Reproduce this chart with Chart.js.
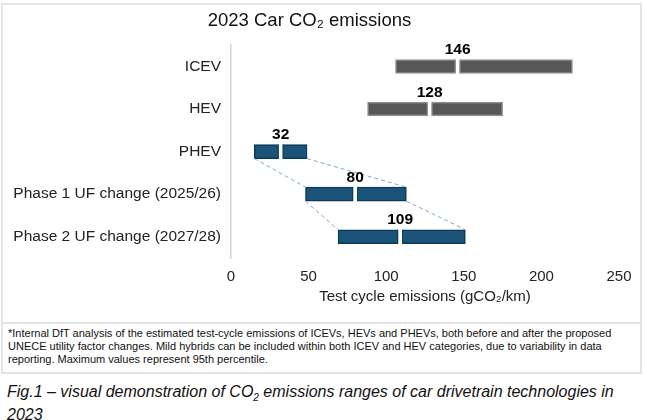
<!DOCTYPE html>
<html>
<head>
<meta charset="utf-8">
<script src="https://cdn.jsdelivr.net/npm/chart.js@4"></script>
<style>
  body { margin: 0; background: #fff; width: 645px; height: 420px; position: relative; overflow: hidden; font-family: "Liberation Sans", Arial, sans-serif; }
  #wrap { position: absolute; left: 0; top: 0; width: 645px; height: 322px; }
  #frame { position: absolute; left: 1px; top: 3px; width: 637px; height: 367px; border: 2px solid #e4e4e4; }
  #divider { position: absolute; left: 1px; top: 322px; width: 641px; height: 2px; background: #e4e4e4; }
  #note { position: absolute; left: 8px; top: 327px; font-size: 11px; line-height: 13px; color: #111; white-space: nowrap; }
  #caption { position: absolute; left: 7px; top: 383px; font-size: 16px; line-height: 17px; font-style: italic; color: #111; white-space: nowrap; }
  #caption sub { font-size: 10px; }
</style>
</head>
<body>
<div id="frame"></div>
<div id="divider"></div>
<div id="wrap"><canvas id="emissions"></canvas></div>
<div id="note">*Internal DfT analysis of the estimated test-cycle emissions of ICEVs, HEVs and PHEVs, both before and after the proposed<br>UNECE utility factor changes. Mild hybrids can be included within both ICEV and HEV categories, due to variability in data<br>reporting. Maximum values represent 95th percentile.</div>
<div id="caption">Fig.1 – visual demonstration of CO<sub>2</sub> emissions ranges of car drivetrain technologies in<br>2023</div>
<script>
// chart data
const categories = ['ICEV', 'HEV', 'PHEV', 'Phase 1 UF change (2025/26)', 'Phase 2 UF change (2027/28)'];
const minValues = [106, 88, 15, 48, 69];
const medianValues = [146, 128, 32, 80, 109];
const maxValues = [220, 175, 49, 113, 151];
const xTicks = [0, 50, 100, 150, 200, 250];
// which bars get joined by the dashed lines
const links = [[2, 3], [3, 4]];

const fills = ['#575757', '#575757', '#1b5478', '#1b5478', '#1b5478'];
const borders = ['#8e8e8e', '#8e8e8e', '#0c3957', '#0c3957', '#0c3957'];

// white split at the median + value above the bar + dashed links
const rangePlugin = {
    id: 'rangePlugin',
    afterDatasetsDraw(chart) {
        const ctx = chart.ctx;
        const x = chart.scales.x;
        const low = chart.getDatasetMeta(0).data;
        ctx.save();
        // dashed links
        ctx.strokeStyle = '#74aadb';
        ctx.lineWidth = 1;
        ctx.setLineDash([4, 3]);
        links.forEach(([a, b]) => {
            const top = low[a], bot = low[b];
            const yA = top.y + top.height / 2, yB = bot.y - bot.height / 2;
            ctx.beginPath();
            ctx.moveTo(x.getPixelForValue(minValues[a]), yA);
            ctx.lineTo(x.getPixelForValue(minValues[b]), yB);
            ctx.moveTo(x.getPixelForValue(maxValues[a]), yA);
            ctx.lineTo(x.getPixelForValue(maxValues[b]), yB);
            ctx.stroke();
        });
        ctx.setLineDash([]);
        medianValues.forEach((m, i) => {
            const bar = low[i];
            const px = x.getPixelForValue(m);
            const t = bar.y - bar.height / 2, h = bar.height;
            ctx.fillStyle = '#fff';
            ctx.fillRect(px - 2, t - 1, 4, h + 2);
            ctx.fillStyle = borders[i];
            ctx.fillRect(px - 3, t, 1, h);
            ctx.fillRect(px + 2, t, 1, h);
            ctx.fillStyle = '#000';
            ctx.font = 'bold 15.5px "Liberation Sans", Arial, sans-serif';
            ctx.textAlign = 'center';
            ctx.textBaseline = 'bottom';
            ctx.fillText(String(m), px, t - 2);
        });
        ctx.restore();
    }
};

const chart = new Chart(document.getElementById('emissions').getContext('2d'), {
    type: 'bar',
    data: {
        labels: categories,
        datasets: [{
            label: 'Min to median',
            data: categories.map((c, i) => [minValues[i], medianValues[i]]),
            backgroundColor: fills,
            borderColor: borders,
            borderWidth: 1.5,
            borderSkipped: false
        }, {
            label: 'Median to max',
            data: categories.map((c, i) => [medianValues[i], maxValues[i]]),
            backgroundColor: fills,
            borderColor: borders,
            borderWidth: 1.5,
            borderSkipped: false
        }]
    },
    options: {
        indexAxis: 'y',
        responsive: true,
        maintainAspectRatio: false,
        animation: false,
        datasets: { bar: { grouped: false, barThickness: 14 } },
        layout: { padding: { left: 0, right: 26, top: 0, bottom: 0 } },
        plugins: {
            legend: { display: false },
            tooltip: { enabled: false },
            title: {
                display: true,
                text: '2023 Car CO₂ emissions',
                color: '#111',
                font: { family: '"Liberation Sans", Arial, sans-serif', size: 18.5, weight: 'normal' },
                padding: { top: 10, bottom: 13 }
            }
        },
        scales: {
            x: {
                min: 0,
                max: 250,
                afterBuildTicks: s => { s.ticks = xTicks.map(v => ({ value: v })); },
                grid: { display: false, drawTicks: false },
                border: { display: false },
                ticks: { color: '#222', padding: 10, font: { family: '"Liberation Sans", Arial, sans-serif', size: 15 } },
                title: {
                    display: true,
                    text: 'Test cycle emissions (gCO₂/km)',
                    color: '#222',
                    font: { family: '"Liberation Sans", Arial, sans-serif', size: 15 },
                    padding: { top: 0, bottom: 16 }
                },
                afterFit: s => { s.height = 64; }
            },
            y: {
                grid: { display: false, drawTicks: false },
                border: { display: true, color: '#d6d6d6', width: 1.5 },
                ticks: { color: '#222', padding: 10, font: { family: '"Liberation Sans", Arial, sans-serif', size: 15.5 } },
                afterFit: s => { s.width = 231; }
            }
        }
    },
    plugins: [rangePlugin]
});
</script>
</body>
</html>
